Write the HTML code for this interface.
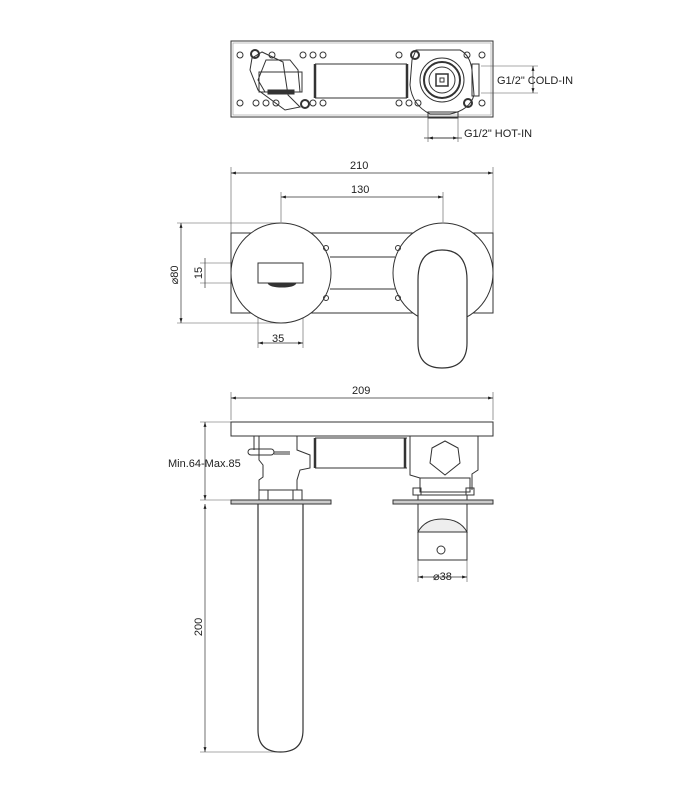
<!DOCTYPE html>
<html><head><meta charset="utf-8"><style>
html,body{margin:0;padding:0;background:#fff}
svg{display:block}
text{font-family:"Liberation Sans",sans-serif;font-size:11px;fill:#222}
</style></head><body>
<svg width="700" height="800" viewBox="0 0 700 800" xmlns="http://www.w3.org/2000/svg">
<defs>
<marker id="a" viewBox="0 0 10 10" refX="10" refY="5" markerWidth="7" markerHeight="7" orient="auto-start-reverse"><path d="M0,2 L10,5 L0,8 z" fill="#222"/></marker>
</defs>
<g fill="none" stroke="#333" stroke-width="1">
<!-- TOP VIEW -->
<rect x="231" y="41" width="262" height="76"/>
<rect x="233" y="43" width="258" height="72" stroke="#999" stroke-width="0.6"/>
<g stroke-width="1">
<circle cx="240" cy="55" r="3"/><circle cx="272" cy="55" r="3"/><circle cx="303" cy="55" r="3"/><circle cx="313" cy="55" r="3"/><circle cx="323" cy="55" r="3"/>
<circle cx="399" cy="55" r="3"/><circle cx="467" cy="55" r="3"/><circle cx="482" cy="55" r="3"/>
<circle cx="240" cy="103" r="3"/><circle cx="256" cy="103" r="3"/><circle cx="266" cy="103" r="3"/><circle cx="276" cy="103" r="3"/><circle cx="313" cy="103" r="3"/><circle cx="323" cy="103" r="3"/>
<circle cx="399" cy="103" r="3"/><circle cx="409" cy="103" r="3"/><circle cx="418" cy="103" r="3"/><circle cx="482" cy="103" r="3"/>
</g>
<circle cx="255" cy="54" r="4" stroke-width="2"/><circle cx="305" cy="104" r="4" stroke-width="2"/>
<circle cx="415" cy="55" r="4" stroke-width="2"/><circle cx="468" cy="103" r="4" stroke-width="2"/>
<path d="M252,58 L262,52 L283,62 L288,95 L300,107 L285,110 L258,90 L250,70 z"/>
<path d="M266,60 L290,60 L298,70 L300,92 L265,92 L258,80 z"/>
<rect x="259" y="72" width="43" height="20"/>
<rect x="268" y="90" width="26" height="4" fill="#333"/>
<line x1="315" y1="64" x2="407" y2="64"/><line x1="315" y1="98" x2="407" y2="98"/>
<line x1="315" y1="64" x2="315" y2="98" stroke-width="2.5"/><line x1="407" y1="64" x2="407" y2="98" stroke-width="2.5"/>
<path d="M416,50 L460,50 Q470,55 472,70 L474,95 Q470,110 450,114 L430,114 Q412,105 410,85 L412,60 z"/>
<circle cx="442" cy="80" r="22"/><circle cx="442" cy="80" r="18" stroke-width="2"/><circle cx="442" cy="80" r="13"/>
<rect x="436" y="74" width="12" height="12" stroke-width="1.5"/><rect x="440" y="78" width="4" height="4"/>
<rect x="472" y="64" width="7" height="32"/>
<rect x="428" y="112" width="30" height="6"/>
<!-- cold/hot dims -->
<g stroke="#555" stroke-width="0.6"><line x1="481" y1="66" x2="538" y2="66"/><line x1="481" y1="93" x2="538" y2="93"/>
<line x1="428" y1="117" x2="428" y2="142"/><line x1="458" y1="117" x2="458" y2="142"/></g>
<line x1="533" y1="66" x2="533" y2="93" stroke-width="0.7" marker-start="url(#a)" marker-end="url(#a)"/>
<line x1="424" y1="138" x2="458" y2="138" stroke-width="0.7" marker-end="url(#a)"/>
<line x1="428" y1="138" x2="462" y2="138" stroke-width="0.7" marker-start="url(#a)"/>

<!-- FRONT VIEW -->
<g stroke="#555" stroke-width="0.6">
<line x1="231" y1="167" x2="231" y2="233"/><line x1="493" y1="167" x2="493" y2="233"/>
<line x1="281" y1="192" x2="281" y2="222"/><line x1="443" y1="192" x2="443" y2="222"/>
<line x1="177" y1="223" x2="281" y2="223"/><line x1="177" y1="323" x2="281" y2="323"/>
<line x1="200" y1="263" x2="258" y2="263"/><line x1="200" y1="283" x2="258" y2="283"/>
<line x1="258" y1="283" x2="258" y2="348"/><line x1="303" y1="283" x2="303" y2="348"/>
</g>
<line x1="231" y1="173" x2="493" y2="173" stroke-width="0.7" marker-start="url(#a)" marker-end="url(#a)"/>
<line x1="281" y1="197" x2="443" y2="197" stroke-width="0.7" marker-start="url(#a)" marker-end="url(#a)"/>
<line x1="181" y1="223" x2="181" y2="323" stroke-width="0.7" marker-start="url(#a)" marker-end="url(#a)"/>
<line x1="205" y1="258" x2="205" y2="288" stroke-width="0.7"/>
<line x1="258" y1="343" x2="303" y2="343" stroke-width="0.7" marker-start="url(#a)" marker-end="url(#a)"/>
<rect x="231" y="233" width="262" height="80"/>
<circle cx="281" cy="273" r="50" fill="#fff"/>
<circle cx="443" cy="273" r="50" fill="#fff"/>
<line x1="330" y1="257" x2="395" y2="257"/><line x1="330" y1="289" x2="395" y2="289"/>
<circle cx="326" cy="248" r="2.5"/><circle cx="326" cy="298" r="2.5"/><circle cx="398" cy="248" r="2.5"/><circle cx="398" cy="298" r="2.5"/>
<rect x="258" y="263" width="45" height="20"/>
<path d="M268,283 L296,283 Q294,287 282,287 Q270,287 268,283 z" fill="#333"/>
<path d="M418,280 Q418,250 442,250 Q467,250 467,280 L467,343 Q467,368 442,368 Q418,368 418,343 z" fill="#fff" stroke-width="1.2"/>

<!-- SIDE VIEW -->
<g stroke="#555" stroke-width="0.6">
<line x1="231" y1="392" x2="231" y2="420"/><line x1="493" y1="392" x2="493" y2="420"/>
<line x1="200" y1="422" x2="231" y2="422"/><line x1="200" y1="500" x2="231" y2="500"/>
<line x1="200" y1="752" x2="280" y2="752"/>
<line x1="418" y1="560" x2="418" y2="582"/><line x1="467" y1="560" x2="467" y2="582"/>
</g>
<line x1="231" y1="398" x2="493" y2="398" stroke-width="0.7" marker-start="url(#a)" marker-end="url(#a)"/>
<line x1="205" y1="422" x2="205" y2="500" stroke-width="0.7" marker-start="url(#a)" marker-end="url(#a)"/>
<line x1="205" y1="504" x2="205" y2="752" stroke-width="0.7" marker-start="url(#a)" marker-end="url(#a)"/>
<line x1="418" y1="577" x2="467" y2="577" stroke-width="0.7" marker-start="url(#a)" marker-end="url(#a)"/>
<rect x="231" y="422" width="262" height="14"/>
<path d="M254,436 L254,450 M259,436 L259,460 L263,465 L263,477 L259,480 L259,490 M297,436 L297,450 L310,455 L310,468 L300,470 L297,480 L297,490"/>
<rect x="248" y="449" width="26" height="6" rx="3"/>
<line x1="274" y1="452" x2="290" y2="452"/><line x1="274" y1="454" x2="290" y2="454"/>
<line x1="315" y1="438" x2="407" y2="438"/><line x1="315" y1="468" x2="407" y2="468"/>
<line x1="315" y1="438" x2="315" y2="468" stroke-width="2.5"/><line x1="405" y1="438" x2="405" y2="468" stroke-width="2.5"/>
<path d="M410,436 L410,475 L420,478 L420,490 M478,436 L478,470 L472,474 L472,490"/>
<path d="M432,448 L445,441 L458,448 L460,463 L445,475 L430,463 z"/>
<rect x="413" y="488" width="8" height="7"/><rect x="466" y="488" width="8" height="7"/>
<rect x="420" y="478" width="50" height="14"/>
<rect x="259" y="490" width="43" height="10"/>
<line x1="268" y1="490" x2="268" y2="500"/><line x1="293" y1="490" x2="293" y2="500"/>
<rect x="231" y="500" width="100" height="4" fill="#ccc"/>
<rect x="393" y="500" width="100" height="4" fill="#ccc"/>
<rect x="418" y="495" width="49" height="5"/>
<path d="M258,504 L258,730 Q258,752 280.5,752 Q303,752 303,730 L303,504" stroke-width="1.2"/>
<path d="M418,504 L418,560 L467,560 L467,504"/>
<path d="M418,532 Q425,519 442,519 Q460,519 467,532 Z" fill="#eee"/>
<circle cx="441" cy="550" r="4"/>
</g>
<text x="497" y="84">G1/2" COLD-IN</text>
<text x="464" y="137">G1/2" HOT-IN</text>
<text x="350" y="169">210</text>
<text x="351" y="193">130</text>
<text x="272" y="342">35</text>
<text transform="translate(178,275) rotate(-90)" text-anchor="middle">⌀80</text>
<text transform="translate(202,273) rotate(-90)" text-anchor="middle">15</text>
<text x="352" y="394">209</text>
<text x="168" y="467">Min.64-Max.85</text>
<text transform="translate(202,627) rotate(-90)" text-anchor="middle">200</text>
<text x="433" y="580">⌀38</text>
</svg>
</body></html>
